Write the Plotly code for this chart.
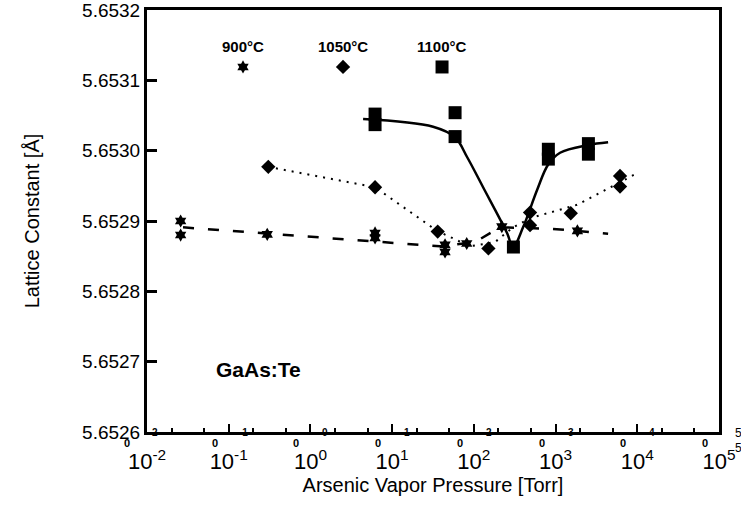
import math
import plotly.graph_objects as go

# ---- Data (x in Torr, y in Angstrom) ----
# 900 °C (stars)
p900 = [0.0258, 0.0258, 0.296, 6.18, 6.18, 44.4, 44.4, 81.8, 220, 1850]
a900 = [5.652900, 5.652880, 5.652881, 5.652883, 5.652876,
        5.652866, 5.652856, 5.652868, 5.652892, 5.652886]
# dashed trend for 900 °C
fit900_p = [0.0276, 38.5, 103.5, 209, 881, 4395]
fit900_a = [5.652891, 5.652864, 5.652870, 5.652891, 5.652889, 5.652882]

# 1050 °C (diamonds)
p1050 = [0.305, 6.18, 36.1, 150.7, 487, 487, 1535, 6150, 6150]
a1050 = [5.652977, 5.652948, 5.652885, 5.652861, 5.652912,
         5.652894, 5.652911, 5.652964, 5.652949]
# dotted trend for 1050 °C
fit1050_p = [0.303, 6.18, 35.5, 89.7, 181.6, 293.8, 487, 1832, 6150, 9954]
fit1050_a = [5.652977, 5.652948, 5.652886, 5.652864, 5.652870,
             5.652890, 5.652904, 5.652923, 5.652955, 5.652968]

# 1100 °C (squares)
p1100 = [6.18, 6.18, 58.9, 58.9, 304.8, 816, 816, 2523, 2523]
a1100 = [5.653052, 5.653037, 5.653054, 5.653020, 5.652863,
         5.653002, 5.652988, 5.653010, 5.652995]
# solid trend for 1100 °C
fit1100_p = [4.41, 31.7, 58.9, 82.6, 129.7, 254.7, 302, 400, 594, 809, 1135, 2500, 4395]
fit1100_a = [5.653045, 5.653034, 5.653019, 5.652991, 5.652948, 5.652883,
             5.652863, 5.652891, 5.652944, 5.652980, 5.652997, 5.653008, 5.653012]

# legend key (inside plot)
legend_labels = ["900°C", "1050°C", "1100°C"]
legend_p = [0.1496, 2.506, 40.8]
legend_a = 5.653119
legend_symbols = ["hexagram", "diamond", "square"]
legend_sizes = [10, 11, 13]

y_tickvals = [5.6526, 5.6527, 5.6528, 5.6529, 5.6530, 5.6531, 5.6532]
y_ticktext = ["5.6526", "5.6527", "5.6528", "5.6529", "5.6530", "5.6531", "5.6532"]
x_tickvals = [1e-2, 1e-1, 1e0, 1e1, 1e2, 1e3, 1e4, 1e5]
x_ticktext = ["10<sup>-2</sup>", "10<sup>-1</sup>", "10<sup>0</sup>", "10<sup>1</sup>",
              "10<sup>2</sup>", "10<sup>3</sup>", "10<sup>4</sup>", "10<sup>5</sup>"]
# stray small digits printed along the bottom axis of the scanned figure
axis_digit_decades = [-2, -1, 0, 1, 2, 3, 4]
axis_digit_text = ["2", "-1", "0", "1", "2", "3", "4"]
zero_decades = [-2, -1, 0, 1, 2, 3, 4, 5]

FONT = "Liberation Sans, Arial, sans-serif"
fig = go.Figure()

# trend lines
fig.add_trace(go.Scatter(x=fit900_p, y=fit900_a, mode="lines",
                         line=dict(color="black", width=2.5, dash="11px,14px")))
fig.add_trace(go.Scatter(x=fit1050_p, y=fit1050_a, mode="lines",
                         line=dict(color="black", width=2, dash="2px,6px")))
fig.add_trace(go.Scatter(x=fit1100_p, y=fit1100_a, mode="lines", line_shape="spline",
                         line=dict(color="black", width=2.5)))

# data markers
fig.add_trace(go.Scatter(x=p900, y=a900, mode="markers",
                         marker=dict(symbol="hexagram", size=10, color="black")))
fig.add_trace(go.Scatter(x=p1050, y=a1050, mode="markers",
                         marker=dict(symbol="diamond", size=11, color="black")))
fig.add_trace(go.Scatter(x=p1100, y=a1100, mode="markers",
                         marker=dict(symbol="square", size=13, color="black")))

# legend key markers + labels
for lp, sym, sz in zip(legend_p, legend_symbols, legend_sizes):
    fig.add_trace(go.Scatter(x=[lp], y=[legend_a], mode="markers",
                             marker=dict(symbol=sym, size=sz, color="black")))
for lab, lp in zip(legend_labels, legend_p):
    fig.add_annotation(x=math.log10(lp), y=legend_a, xref="x", yref="y",
                       text="<b>" + lab + "</b>", showarrow=False, yshift=20,
                       font=dict(family=FONT, size=15, color="black"))

fig.add_annotation(x=0.117, y=0.149, xref="paper", yref="paper",
                   xanchor="left", yanchor="middle",
                   text="<b>GaAs:Te</b>", showarrow=False,
                   font=dict(family=FONT, size=21, color="black"))

# stray small axis digits (scan artefacts in the reference)
for d, t in zip(axis_digit_decades, axis_digit_text):
    fig.add_annotation(x=d, y=-0.002, xref="x", yref="paper", yanchor="middle",
                       text="<b>" + t + "</b>", showarrow=False,
                       xshift=(8 if d == -2 else 15),
                       font=dict(family=FONT, size=10, color="black"))
for d in zero_decades:
    fig.add_annotation(x=d, y=-0.026, xref="x", yref="paper", yanchor="middle",
                       text="<b>0</b>", showarrow=False,
                       xshift=(-20 if d == -2 else -14),
                       font=dict(family=FONT, size=11, color="black"))
for yy in [-0.002, -0.038]:
    fig.add_annotation(x=1.043, y=yy, xref="paper", yref="paper", yanchor="middle",
                       text="5", showarrow=False,
                       font=dict(family=FONT, size=12, color="black"))

fig.update_layout(
    width=741, height=509,
    margin=dict(l=147, r=22, t=10, b=77, autoexpand=False),
    paper_bgcolor="white", plot_bgcolor="white",
    showlegend=False,
    font=dict(family=FONT, color="black"),
)
fig.update_xaxes(
    type="log", range=[-2, 5], automargin=False,
    tickvals=x_tickvals, ticktext=x_ticktext,
    tickfont=dict(family=FONT, size=22, color="black"),
    ticklabelstandoff=8, ticklabeloverflow="allow",
    ticks="inside", ticklen=8, tickwidth=2, tickcolor="black",
    minor=dict(ticks="inside", ticklen=4, tickwidth=2, tickcolor="black", showgrid=False),
    showline=True, linewidth=3, linecolor="black", mirror=True,
    showgrid=False, zeroline=False,
    title=dict(text="Arsenic Vapor Pressure [Torr]", standoff=0,
               font=dict(family=FONT, size=20, color="black")),
)
fig.update_yaxes(
    range=[5.6526, 5.6532], automargin=False,
    tickvals=y_tickvals, ticktext=y_ticktext, ticklabeloverflow="allow",
    tickfont=dict(family=FONT, size=19, color="black"),
    ticks="inside", ticklen=10, tickwidth=3, tickcolor="black",
    showline=True, linewidth=3, linecolor="black", mirror=True,
    showgrid=False, zeroline=False,
    title=dict(text="Lattice Constant [Å]", standoff=38,
               font=dict(family=FONT, size=20, color="black")),
)

fig.write_html("out.html")
